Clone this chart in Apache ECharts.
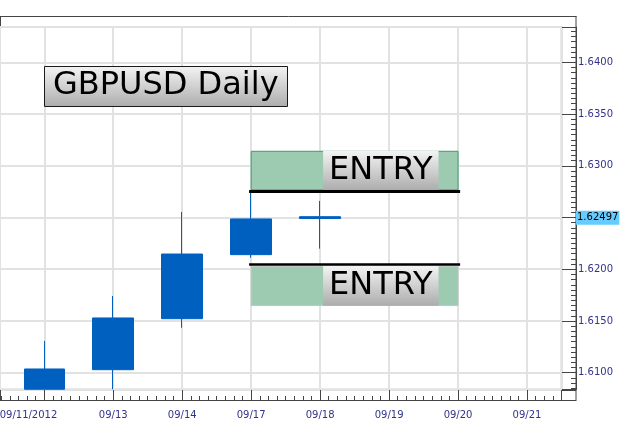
<!DOCTYPE html>
<html><head><meta charset="utf-8">
<script src="https://cdn.jsdelivr.net/npm/echarts@6/dist/echarts.min.js"></script>
<style>html,body{margin:0;padding:0;background:#fff}#c{width:625px;height:423px}</style>
</head><body><div id="c"></div>
<script>
// x tick labels: first one sits at the left edge of the plot, then one per trading day (index 0..7; 09/12 label hidden)
const xEdgeLabel = '09/11/2012';
const xTickLabels = ['', '09/13', '09/14', '09/17', '09/18', '09/19', '09/20', '09/21'];
const candleDates = ['09/12', '09/13', '09/14', '09/17', '09/18'];
const candleIndex = [0, 1, 2, 3, 4];
// lowest visible price is ~1.6084 (values below are cut off at the plot edge)
const opens  = [1.6084, 1.61029, 1.61522, 1.62141, 1.62508];
const closes = [1.61036, 1.61529, 1.62147, 1.62486, 1.62490];
const lows   = [1.6084, 1.6084, 1.61435, 1.62112, 1.62199];
const highs  = [1.61307, 1.61741, 1.62553, 1.6275, 1.62660];
const yTickLabels = ['1.6100', '1.6150', '1.6200', '1.6300', '1.6350', '1.6400'];
const yRange = [1.608376, 1.643412];
const xRange = [-0.642, 7.5];
const lastPrice = 1.62497;
const titleText = 'GBPUSD Daily';
const entryText = 'ENTRY';
const entryLevels = [1.6275, 1.6205];
const entryZones = [[1.6314, 1.62766], [1.6203, 1.6165]];
const zoneX = [3, 6];
const lineX = [2.97, 6.03];

const FONT = 'DejaVu Sans';
const candleColor = '#0060c0';
const labelColor = '#33338a';
const frame = '#454545';

const chart = echarts.init(document.getElementById('c'), null, {renderer: 'canvas'});
const candleData = candleIndex.map((x, i) => [x, opens[i], closes[i], lows[i], highs[i]]);
const grad = () => new echarts.graphic.LinearGradient(0, 0, 0, 1, [
  {offset: 0, color: '#f4f4f4'}, {offset: 1, color: '#acacac'}]);

const entryLabelStyle = {
  show: true, position: 'insideRight', distance: 20, formatter: entryText,
  fontFamily: FONT, fontSize: 32, color: '#000', lineHeight: 38,
  padding: [2, 6, 0, 6], backgroundColor: grad()
};

chart.setOption({
  animation: false,
  title: {
    text: titleText, left: 44, top: 66, padding: [4, 9, 5, 9],
    backgroundColor: grad(), borderColor: '#1a1a1a', borderWidth: 1,
    textStyle: {fontFamily: FONT, fontSize: 32, fontWeight: 'normal', color: '#000', lineHeight: 32}
  },
  grid: {left: 0, right: 63.5, top: 27, bottom: 33.5, show: true, containLabel: false,
         outerBoundsMode: 'none',
         borderColor: '#d2d6de', borderWidth: 2, backgroundColor: '#fff'},
  xAxis: {
    type: 'value', min: xRange[0], max: xRange[1], splitNumber: 8, offset: 10.5,
    axisLine: {show: true, onZero: false, lineStyle: {color: frame, width: 1}},
    axisTick: {show: true, inside: true, length: 10, lineStyle: {color: frame}},
    minorTick: {show: true, splitNumber: 8, length: 4, lineStyle: {color: frame}},
    splitLine: {show: true, lineStyle: {color: '#e2e2e2', width: 2}},
    axisLabel: {
      showMinLabel: true, showMaxLabel: false, margin: 10,
      fontFamily: FONT, fontSize: 10, color: labelColor,
      formatter: function (v) {
        if (Math.abs(v - xRange[0]) < 1e-6) return '{first|' + xEdgeLabel + '}';
        if (Math.abs(v - Math.round(v)) > 1e-6) return '';
        return xTickLabels[Math.round(v)] || '';
      },
      rich: {first: {fontFamily: FONT, fontSize: 10, color: labelColor, padding: [0, 0, 0, 57]}}
    }
  },
  yAxis: {
    type: 'value', position: 'right', min: yRange[0], max: yRange[1], splitNumber: 7, offset: 14.5,
    axisLine: {show: true, onZero: false, lineStyle: {color: frame, width: 1}},
    axisTick: {show: true, inside: true, length: 14, lineStyle: {color: frame}},
    minorTick: {show: true, splitNumber: 10, length: 5, lineStyle: {color: frame}},
    splitLine: {show: true, lineStyle: {color: '#e2e2e2', width: 2}},
    axisLabel: {
      margin: 2, fontFamily: FONT, fontSize: 10, color: labelColor,
      showMinLabel: true, showMaxLabel: true,
      formatter: function (v) {
        const s = v.toFixed(4);
        return yTickLabels.indexOf(s) >= 0 && Math.abs(v - parseFloat(s)) < 1e-7 ? s : '';
      }
    }
  },
  series: [{
    type: 'candlestick',
    name: 'GBPUSD',
    data: candleData,
    barWidth: 41,
    clip: true,
    itemStyle: {color: candleColor, color0: candleColor, borderColor: candleColor, borderColor0: candleColor, borderWidth: 1},
    markArea: {
      silent: true,
      data: [
        [{xAxis: zoneX[0], yAxis: entryZones[0][0], itemStyle: {color: '#9ccbb2', borderColor: '#3f9b6b', borderWidth: 1}, label: entryLabelStyle},
         {xAxis: zoneX[1], yAxis: entryZones[0][1]}],
        [{xAxis: zoneX[0], yAxis: entryZones[1][0], itemStyle: {color: '#9ccbb2', borderColor: '#c4c4c4', borderWidth: 1}, label: entryLabelStyle},
         {xAxis: zoneX[1], yAxis: entryZones[1][1]}]
      ]
    },
    markLine: {
      silent: true, symbol: ['none', 'none'], animation: false, precision: 5,
      label: {show: false},
      data: [
        [{coord: [lineX[0], entryLevels[0]], lineStyle: {color: '#000', width: 3, type: 'solid'}},
         {coord: [lineX[1], entryLevels[0]], lineStyle: {color: '#000', width: 3, type: 'solid'}}],
        [{coord: [lineX[0], entryLevels[1]], lineStyle: {color: '#000', width: 2.5, type: 'solid'}},
         {coord: [lineX[1], entryLevels[1]], lineStyle: {color: '#000', width: 2.5, type: 'solid'}}],
        {yAxis: lastPrice, lineStyle: {color: 'rgba(0,0,0,0)', width: 1},
         label: {show: true, position: 'end', distance: 14.5, formatter: String(lastPrice),
                 fontFamily: FONT, fontSize: 10, color: '#000', backgroundColor: '#66ccff',
                 padding: [1, 1, 1, 1], lineHeight: 12}}
      ]
    }
  }],
  graphic: [
    {type: 'line', silent: true, shape: {x1: 0, y1: 16.5, x2: 576.5, y2: 16.5}, style: {stroke: frame, lineWidth: 1}},
    {type: 'line', silent: true, shape: {x1: 576, y1: 16, x2: 576, y2: 401}, style: {stroke: frame, lineWidth: 1}},
    {type: 'line', silent: true, shape: {x1: 0.5, y1: 16, x2: 0.5, y2: 27}, style: {stroke: frame, lineWidth: 1}},
    {type: 'line', silent: true, shape: {x1: 0, y1: 390.5, x2: 576, y2: 390.5}, style: {stroke: frame, lineWidth: 1}},
    {type: 'line', silent: true, shape: {x1: 0, y1: 400.5, x2: 576, y2: 400.5}, style: {stroke: frame, lineWidth: 1}}
  ]
});
</script></body></html>
